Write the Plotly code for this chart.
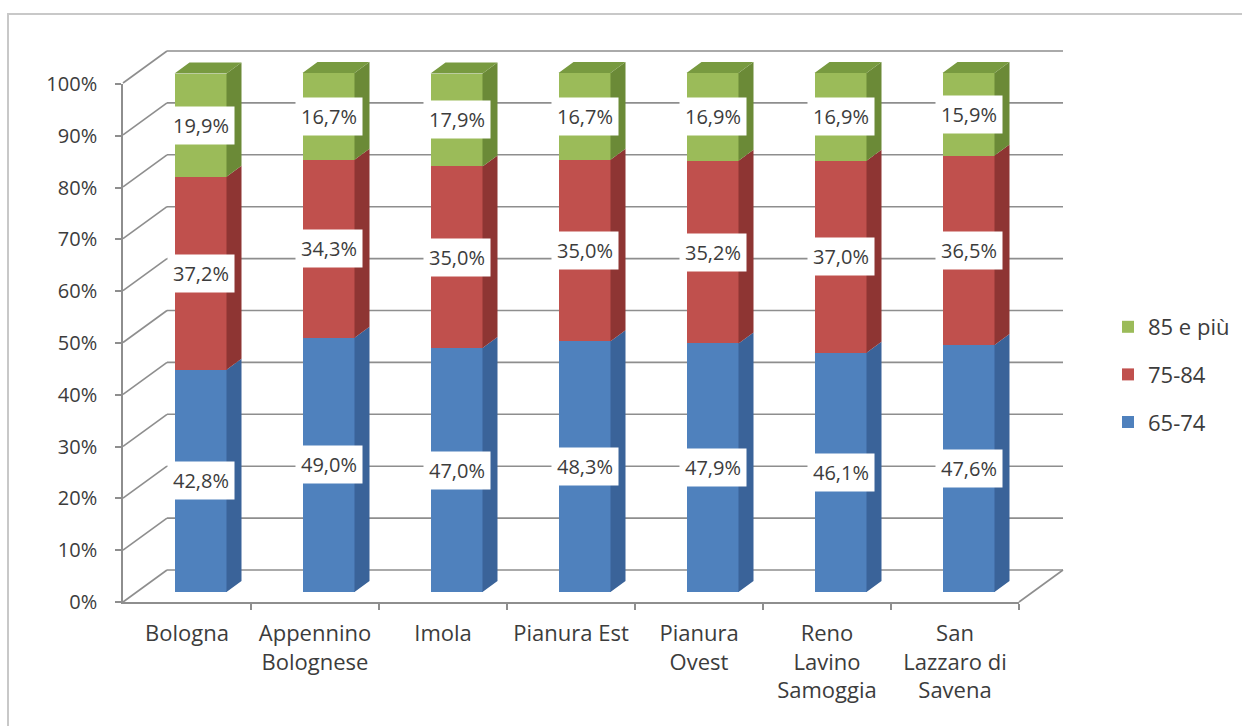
import plotly.graph_objects as go

# ---- data ----
categories = ["Bologna", "Appennino<br>Bolognese", "Imola", "Pianura Est",
              "Pianura<br>Ovest", "Reno<br>Lavino<br>Samoggia",
              "San<br>Lazzaro di<br>Savena"]
series_names = ["65-74", "75-84", "85 e più"]
share_65_74 = [42.8, 49.0, 47.0, 48.3, 47.9, 46.1, 47.6]
share_75_84 = [37.2, 34.3, 35.0, 35.0, 35.2, 37.0, 36.5]
share_85_plus = [19.9, 16.7, 17.9, 16.7, 16.9, 16.9, 15.9]
y_ticks = [0, 10, 20, 30, 40, 50, 60, 70, 80, 90, 100]
y_tick_labels = ["0%", "10%", "20%", "30%", "40%", "50%", "60%", "70%",
                 "80%", "90%", "100%"]

series_values = [share_65_74, share_75_84, share_85_plus]

# ---- styling ----
front_col = ["#4F81BD", "#C0504D", "#9BBB59"]
side_col = ["#3A6399", "#8E3533", "#6B8A37"]
top_col = "#789A40"
grid_col = "#8E8E8E"
text_col = "#3C3C3C"
FONT = "Open Sans"

# ---- pseudo-3D geometry (oblique projection) ----
W, H = 1242, 726
PX_CAT = 128.0          # pixels per category
PX_PCT = 5.19           # pixels per percentage point
ORIGIN_X, ORIGIN_Y = 200.5, 592.0   # bar front plane: category 0, 0%


def off(dx_px, dy_px):
    """pixel offset -> data offset in the bar-front-plane coordinates"""
    return dx_px / PX_CAT, dy_px / PX_PCT


FX, FY = off(-13.5, -10)     # front (axis) plane
DX, DY = off(15, 11)         # depth of each bar
BX, BY = off(30.5, 22)       # back wall
BAR_W = 52 / PX_CAT

x_range = [-ORIGIN_X / PX_CAT, (W - ORIGIN_X) / PX_CAT]
y_range = [(ORIGIN_Y - H) / PX_PCT, ORIGIN_Y / PX_PCT]

n = len(categories)
fig = go.Figure()

# front faces: stacked bars
for k, (name, vals) in enumerate(zip(series_names, series_values)):
    fig.add_trace(go.Bar(
        x=list(range(n)), y=vals, name=name, width=BAR_W,
        marker=dict(color=front_col[k], line=dict(width=0)),
        legendgroup=name, legendrank=3 - k,
        hoverinfo="skip", xaxis="x", yaxis="y",
    ))

# side faces for every segment, and the top face of each column
bases = [0.0] * n
for k, vals in enumerate(series_values):
    xs, ys = [], []
    for i, v in enumerate(vals):
        b = bases[i]
        xr = i + BAR_W / 2
        xs += [xr, xr + DX, xr + DX, xr, xr, None]
        ys += [b, b + DY, b + v + DY, b + v, b, None]
    fig.add_trace(go.Scatter(
        x=xs, y=ys, mode="lines", fill="toself", fillcolor=side_col[k],
        line=dict(width=0, color=side_col[k]), showlegend=False,
        hoverinfo="skip", xaxis="x", yaxis="y",
    ))
    bases = [b + v for b, v in zip(bases, vals)]

xs, ys = [], []
for i, t in enumerate(bases):
    xl, xr = i - BAR_W / 2, i + BAR_W / 2
    xs += [xl, xl + DX, xr + DX, xr, xl, None]
    ys += [t, t + DY, t + DY, t, t, None]
fig.add_trace(go.Scatter(
    x=xs, y=ys, mode="lines", fill="toself", fillcolor=top_col,
    line=dict(width=0, color=top_col), showlegend=False,
    hoverinfo="skip", xaxis="x", yaxis="y",
))

# empty trace that registers the front-plane axes
fig.add_trace(go.Scatter(x=[], y=[], mode="markers", showlegend=False,
                         hoverinfo="skip", xaxis="x2", yaxis="y2"))

# back wall gridlines, side wall diagonals and floor edge
shapes = []
x_left, x_right = -0.5, n - 0.5
for t in y_ticks:
    shapes.append(dict(type="line", xref="x", yref="y", layer="below",
                       x0=x_left + BX, y0=t + BY, x1=x_right + BX, y1=t + BY,
                       line=dict(color=grid_col, width=1.6)))
    shapes.append(dict(type="line", xref="x", yref="y", layer="below",
                       x0=x_left + FX, y0=t + FY, x1=x_left + BX, y1=t + BY,
                       line=dict(color=grid_col, width=1.6)))
shapes.append(dict(type="line", xref="x", yref="y", layer="below",
                   x0=x_right + FX, y0=FY, x1=x_right + BX, y1=BY,
                   line=dict(color=grid_col, width=1.6)))
# outer frame
shapes.append(dict(type="rect", xref="paper", yref="paper",
                   x0=8 / W, y0=-0.05, x1=1.05, y1=1 - 14 / H,
                   line=dict(color="#C8C8C8", width=2)))

# value labels in white boxes at the middle of each segment
annotations = []
bases = [0.0] * n
for vals in series_values:
    for i, v in enumerate(vals):
        annotations.append(dict(
            x=i, y=bases[i] + v / 2, xref="x", yref="y",
            text=f"{v:.1f}".replace(".", ",") + "%", showarrow=False,
            bgcolor="white", borderpad=5,
            font=dict(family=FONT, size=20, color=text_col),
        ))
    bases = [b + v for b, v in zip(bases, vals)]

fig.update_layout(
    width=W, height=H,
    margin=dict(l=0, r=0, t=0, b=0, autoexpand=False),
    paper_bgcolor="white", plot_bgcolor="rgba(0,0,0,0)",
    barmode="stack", bargap=0,
    font=dict(family=FONT, size=20, color=text_col),
    shapes=shapes, annotations=annotations,
    showlegend=True,
    legend=dict(x=1108 / W, y=1 - 306 / H, xanchor="left", yanchor="top",
                traceorder="grouped", tracegroupgap=16,
                font=dict(family=FONT, size=22, color=text_col),
                bgcolor="rgba(0,0,0,0)"),
    xaxis=dict(domain=[0, 1], range=x_range, visible=False, fixedrange=True,
               automargin=False),
    yaxis=dict(domain=[0, 1], range=y_range, visible=False, fixedrange=True,
               automargin=False),
    # front plane axes carrying ticks and labels
    xaxis2=dict(domain=[123 / W, 1019 / W], anchor="y2", range=[-0.5, n - 0.5],
                tickmode="array", tickvals=list(range(n)), ticktext=categories,
                ticks="", showgrid=False, zeroline=False, automargin=False,
                showline=True, linecolor=grid_col, linewidth=1.6,
                ticklabelstandoff=11,
                tickfont=dict(family=FONT, size=22, color=text_col),
                minor=dict(tickmode="array",
                           tickvals=[i + 0.5 for i in range(n)],
                           ticks="outside", ticklen=6, tickcolor=grid_col,
                           tickwidth=1.6, showgrid=False),
                fixedrange=True),
    yaxis2=dict(domain=[(H - 602) / H, (H - 84) / H], anchor="x2",
                range=[0, 100], tickmode="array", tickvals=y_ticks,
                ticktext=y_tick_labels, ticks="outside", ticklen=6,
                tickcolor=grid_col, tickwidth=1.6, showgrid=False,
                zeroline=False, showline=True, linecolor=grid_col,
                linewidth=1.6, ticklabelstandoff=14, automargin=False,
                tickfont=dict(family=FONT, size=20, color=text_col),
                fixedrange=True),
)

fig.write_html("out.html")
